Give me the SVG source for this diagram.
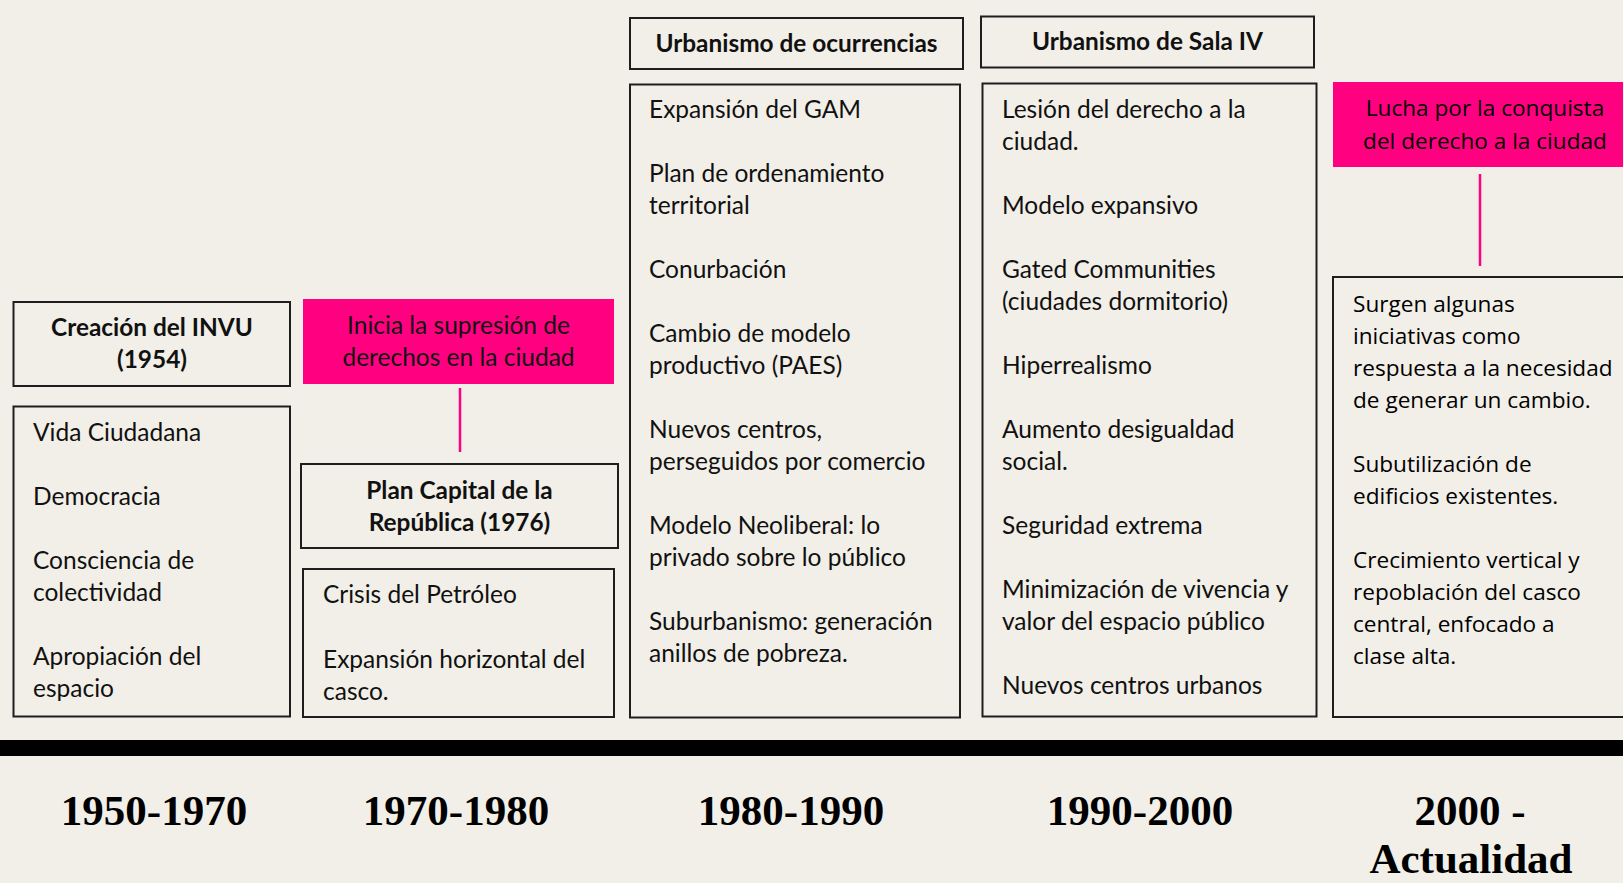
<svg xmlns="http://www.w3.org/2000/svg" width="1623" height="883" viewBox="0 0 1623 883">
<style>
.box{fill:none;stroke:#1e1e1e;stroke-width:2}
.pink{fill:#FF0080}
.t{font-family:Lato,"Liberation Sans",sans-serif;font-size:24.5px;fill:#111}
.b{font-family:Lato,"Liberation Sans",sans-serif;font-size:24.4px;font-weight:bold;fill:#111;text-anchor:middle}
.c{text-anchor:middle}
.o{font-family:"Open Sans","Liberation Sans",sans-serif;font-size:22.6px;fill:#000}
.y{font-family:"Liberation Serif","Times New Roman",serif;font-size:43px;font-weight:bold;fill:#000;text-anchor:middle}
.con{stroke:#FF0080;stroke-width:2.5;fill:none}
</style>
<rect width="1623" height="883" fill="#F1EFE7"/>

<g id="connectors">
<line class="con" x1="460" y1="388" x2="460" y2="452"/>
<line class="con" x1="1480" y1="174" x2="1480" y2="266"/>
</g>

<g id="creacion-invu">
<rect class="box" x="13.5" y="302" width="276.5" height="84"/>
<text class="b" x="152" y="336">Creación del INVU</text>
<text class="b" x="152" y="368">(1954)</text>
</g>

<g id="lista-1950">
<rect class="box" x="13.5" y="406.5" width="276.5" height="310"/>
<text class="t" x="33" y="441">Vida Ciudadana</text>
<text class="t" x="33" y="505">Democracia</text>
<text class="t" x="33" y="569">Consciencia de</text>
<text class="t" x="33" y="601">colectividad</text>
<text class="t" x="33" y="665">Apropiación del</text>
<text class="t" x="33" y="697">espacio</text>
</g>

<g id="inicia-supresion">
<rect class="pink" x="303" y="299" width="311" height="85"/>
<text class="t c" x="458.5" y="334">Inicia la supresión de</text>
<text class="t c" x="458.5" y="366">derechos en la ciudad</text>
</g>

<g id="plan-capital">
<rect class="box" x="301" y="464" width="317" height="84"/>
<text class="b" x="459.5" y="499">Plan Capital de la</text>
<text class="b" x="459.5" y="531">República (1976)</text>
</g>

<g id="lista-1970">
<rect class="box" x="303" y="569" width="311" height="148"/>
<text class="t" x="323" y="603">Crisis del Petróleo</text>
<text class="t" x="323" y="668">Expansión horizontal del</text>
<text class="t" x="323" y="700">casco.</text>
</g>

<g id="urbanismo-ocurrencias">
<rect class="box" x="630" y="18" width="333" height="51"/>
<text class="b" x="796.5" y="52">Urbanismo de ocurrencias</text>
</g>

<g id="lista-1980">
<rect class="box" x="630" y="84.5" width="330" height="633"/>
<text class="t" x="649" y="118">Expansión del GAM</text>
<text class="t" x="649" y="182">Plan de ordenamiento</text>
<text class="t" x="649" y="214">territorial</text>
<text class="t" x="649" y="278">Conurbación</text>
<text class="t" x="649" y="342">Cambio de modelo</text>
<text class="t" x="649" y="374">productivo (PAES)</text>
<text class="t" x="649" y="438">Nuevos centros,</text>
<text class="t" x="649" y="470">perseguidos por comercio</text>
<text class="t" x="649" y="534">Modelo Neoliberal: lo</text>
<text class="t" x="649" y="566">privado sobre lo público</text>
<text class="t" x="649" y="630">Suburbanismo: generación</text>
<text class="t" x="649" y="662">anillos de pobreza.</text>
</g>

<g id="urbanismo-sala-iv">
<rect class="box" x="981" y="16.5" width="333" height="51"/>
<text class="b" x="1147.5" y="50">Urbanismo de Sala IV</text>
</g>

<g id="lista-1990">
<rect class="box" x="982.5" y="83.5" width="334" height="633"/>
<text class="t" x="1002" y="118">Lesión del derecho a la</text>
<text class="t" x="1002" y="150">ciudad.</text>
<text class="t" x="1002" y="214">Modelo expansivo</text>
<text class="t" x="1002" y="278">Gated Communities</text>
<text class="t" x="1002" y="310">(ciudades dormitorio)</text>
<text class="t" x="1002" y="374">Hiperrealismo</text>
<text class="t" x="1002" y="438">Aumento desigualdad</text>
<text class="t" x="1002" y="470">social.</text>
<text class="t" x="1002" y="534">Seguridad extrema</text>
<text class="t" x="1002" y="598">Minimización de vivencia y</text>
<text class="t" x="1002" y="630">valor del espacio público</text>
<text class="t" x="1002" y="694">Nuevos centros urbanos</text>
</g>

<g id="lucha-conquista">
<rect class="pink" x="1333" y="82" width="300" height="85"/>
<text class="o c" x="1485" y="116">Lucha por la conquista</text>
<text class="o c" x="1485" y="149">del derecho a la ciudad</text>
</g>

<g id="lista-2000">
<rect class="box" x="1333" y="277" width="300" height="440"/>
<text class="o" x="1353" y="312">Surgen algunas</text>
<text class="o" x="1353" y="344">iniciativas como</text>
<text class="o" x="1353" y="376">respuesta a la necesidad</text>
<text class="o" x="1353" y="408">de generar un cambio.</text>
<text class="o" x="1353" y="472">Subutilización de</text>
<text class="o" x="1353" y="504">edificios existentes.</text>
<text class="o" x="1353" y="568">Crecimiento vertical y</text>
<text class="o" x="1353" y="600">repoblación del casco</text>
<text class="o" x="1353" y="632">central, enfocado a</text>
<text class="o" x="1353" y="664">clase alta.</text>
</g>

<g id="timeline">
<rect x="0" y="740" width="1623" height="16" fill="#000"/>
<text class="y" x="154" y="825">1950-1970</text>
<text class="y" x="456" y="825">1970-1980</text>
<text class="y" x="791" y="825">1980-1990</text>
<text class="y" x="1140" y="825">1990-2000</text>
<text class="y" x="1470" y="825">2000 -</text>
<text class="y" x="1471" y="873">Actualidad</text>
</g>
</svg>
